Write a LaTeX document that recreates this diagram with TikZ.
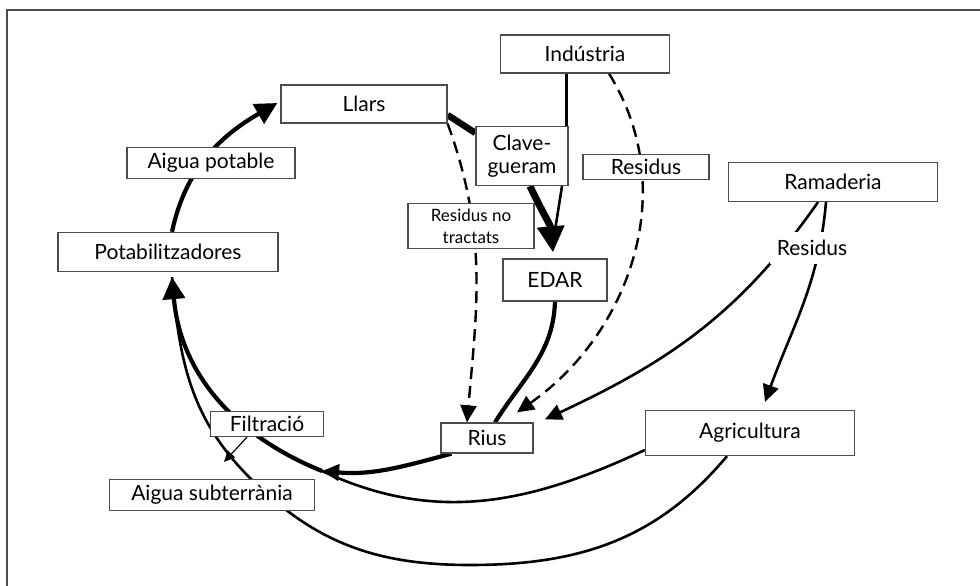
\documentclass[tikz,border=0pt]{standalone}
\usepackage{fontspec}
\setmainfont{Lato}
\usetikzlibrary{arrows.meta,backgrounds}

\begin{document}
\begin{tikzpicture}[x=1pt,y=1pt,
  box/.style={draw=black!70,line width=1.3pt,fill=white,inner sep=0pt,align=center,font=\fontsize{21}{23}\selectfont},
  flow/.style={line width=2.6pt},
  heavy/.style={line width=4.2pt},
  dashflow/.style={line width=2.4pt,dash pattern=on 12pt off 7pt},
  bigtip/.style={-{Triangle[length=22pt,width=22pt]}},
  midtip/.style={-{Triangle[length=17pt,width=16pt]}},
  smalltip/.style={-{Triangle[length=11pt,width=10pt]}}]
\useasboundingbox (0,0) rectangle (980,-586);
\draw[black!70,line width=2pt] (7,-586) -- (7,-10) -- (980,-10);

\node[box,minimum width=169pt,minimum height=38pt] (industria) at (585,-54) {Indústria};
\node[box,minimum width=166pt,minimum height=38pt] (llars) at (364,-104) {Llars};
\node[box,minimum width=92pt,minimum height=59pt] (claveg) at (522,-156) {Clave-\\gueram};
\node[box,minimum width=126pt,minimum height=25pt] (resind) at (646,-167) {Residus};
\node[box,minimum width=126pt,minimum height=45pt,font=\fontsize{17}{22}\selectfont] (resnt) at (471,-226) {Residus no\\tractats};
\node[box,minimum width=104pt,minimum height=42pt] (edar) at (555,-280) {EDAR};
\node[box,minimum width=209pt,minimum height=39pt] (ramaderia) at (833,-182) {Ramaderia};
\node[box,draw=none,minimum width=84pt,minimum height=32pt] (resram) at (812,-248) {Residus};
\node[box,minimum width=209pt,minimum height=45pt] (agricultura) at (750,-433) {Agricultura};
\node[box,minimum width=92pt,minimum height=30pt] (rius) at (487,-438) {Rius};
\node[box,minimum width=220pt,minimum height=39pt] (potab) at (168,-252) {Potabilitzadores};
\node[box,minimum width=168pt,minimum height=31pt] (aiguapot) at (211,-163) {Aigua potable};
\node[box,minimum width=113pt,minimum height=25pt] (filtracio) at (267,-424) {Filtració};
\node[box,minimum width=205pt,minimum height=31pt] (aiguasub) at (212,-495) {Aigua subterrània};

\coordinate (junct) at (322,-471);
\coordinate (loopbot) at (470,-565);
\coordinate (subpass) at (250,-478);
\coordinate (filsub) at (224,-462);

\begin{scope}[on background layer]
\draw[heavy,bigtip] ([xshift=4pt]potab.north) to[out=78,in=210] ([xshift=-3pt,yshift=1pt]llars.west);
\draw[line width=6.5pt] ([yshift=-11pt]llars.east) -- ([yshift=23pt]claveg.west);
\draw[flow] ([xshift=-2pt]claveg.north east) -- ([xshift=-2pt]claveg.north east |- industria.south);
\draw[flow] ([xshift=40pt]claveg.south) -- ([yshift=28pt]edar.north);
\draw[line width=7pt,-{Triangle[length=26pt,width=26pt]}] ([xshift=8pt]claveg.south) to[out=-65,in=95] ([xshift=-2pt,yshift=6pt]edar.north);
\draw[dashflow,midtip] (llars.south east) to[out=-70,in=85] ([xshift=-20pt]rius.north);
\draw[dashflow,midtip] ([xshift=24pt]industria.south) to[out=-58,in=35] ([xshift=30pt,yshift=10pt]rius.north);
\draw[flow,midtip] ([xshift=-15pt]ramaderia.south) to[out=235,in=25] ([xshift=58pt,yshift=3pt]rius.north);
\draw[flow,midtip] ([xshift=-7pt]ramaderia.south) to[out=-95,in=70] ([xshift=15pt,yshift=8pt]agricultura.north);
\draw[heavy] (edar.south) to[out=-92,in=58] ([xshift=8pt]rius.north);
\draw[flow] ([yshift=-17pt]agricultura.west) to[out=205,in=-25] (junct);
\draw[heavy,midtip] ([xshift=11pt]rius.south west) to[out=195,in=-5] (junct);
\draw[heavy,bigtip] (junct) to[out=158,in=-85] ([xshift=4pt,yshift=-5pt]potab.south);
\draw[flow] ([xshift=-23pt]agricultura.south) to[out=-130,in=0] (loopbot) to[out=180,in=-45] (subpass) to[out=135,in=-85] ([xshift=4pt,yshift=-5pt]potab.south);
\draw[line width=1.2pt,smalltip] ([xshift=-20pt]filtracio.south) -- (filsub);
\end{scope}
\end{tikzpicture}
\end{document}
